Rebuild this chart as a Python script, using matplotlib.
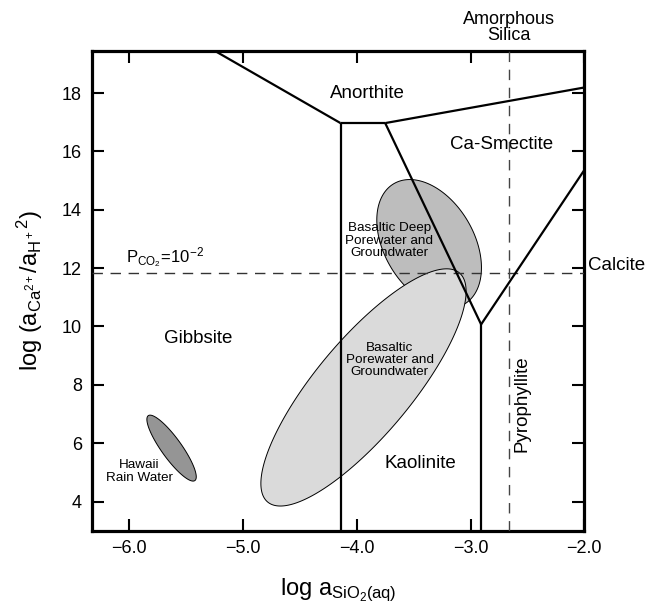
import numpy as np
import matplotlib
matplotlib.use("Agg")
import matplotlib.pyplot as plt

plt.rcParams["font.family"] = ["Liberation Sans", "DejaVu Sans"]
plt.rcParams["mathtext.fontset"] = "custom"
plt.rcParams["mathtext.rm"] = "Liberation Sans"
plt.rcParams["mathtext.it"] = "Liberation Sans:italic"

# phase boundaries (log aSiO2, log aCa/aH^2)
bnd_x = [[-5.25, -4.143], [-4.143, -3.75], [-3.75, -2.0], [-4.143, -4.143],
         [-3.75, -2.907], [-2.907, -2.907], [-2.907, -2.0]]
bnd_y = [[19.45, 16.97], [16.97, 16.97], [16.97, 18.19], [16.97, 3.0],
         [16.97, 10.07], [10.07, 3.0], [10.07, 15.36]]

silica_x = -2.665     # amorphous silica saturation
calcite_y = 11.82     # calcite saturation at PCO2 = 1e-2

# water fields: centre, half extent in x and y, correlation (tilt)
ell_names = ["Basaltic Deep\nPorewater and\nGroundwater",
             "Basaltic\nPorewater and\nGroundwater",
             "Hawaii\nRain Water"]
ell_cx = [-3.364, -3.941, -5.628]
ell_cy = [12.83, 7.91, 5.83]
ell_hx = [0.46, 0.902, 0.217]
ell_hy = [2.205, 4.065, 1.13]
ell_r = [-0.37, 0.81, -0.87]
ell_col = ["#bdbdbd", "#dadada", "#959595"]
lab_x = [-3.715, -3.71, -5.91]
lab_y = [12.94, 8.85, 5.03]

regions = ["Anorthite", "Ca-Smectite", "Gibbsite", "Kaolinite"]
reg_x = [-3.906, -2.725, -5.39, -3.44]
reg_y = [18.0, 16.23, 9.6, 5.31]

xticks = [-6.0, -5.0, -4.0, -3.0, -2.0]
xtick_labels = ["\u22126.0", "\u22125.0", "\u22124.0", "\u22123.0", "\u22122.0"]
yticks = [4, 6, 8, 10, 12, 14, 16, 18]

fig = plt.figure(figsize=(6.56, 6.09), dpi=100)
ax = fig.add_axes([0.1398, 0.1286, 0.7509, 0.7881])
ax.set_xlim(-6.33, -2.0)
ax.set_ylim(3.0, 19.45)

t = np.linspace(0, 2 * np.pi, 300)
for i in range(len(ell_cx)):
    ex = ell_cx[i] + ell_hx[i] * np.cos(t)
    ey = ell_cy[i] + ell_hy[i] * (ell_r[i] * np.cos(t) + np.sqrt(1 - ell_r[i] ** 2) * np.sin(t))
    ax.fill(ex, ey, facecolor=ell_col[i], edgecolor="black", lw=0.7, zorder=1 + i)
    ax.text(lab_x[i], lab_y[i], ell_names[i], ha="center", va="center",
            fontsize=9.7, linespacing=1.05, zorder=5)

ax.axhline(calcite_y, color="#333333", lw=1.0, dashes=(7.5, 5.5), zorder=6)
ax.axvline(silica_x, color="#444444", lw=1.0, dashes=(7.5, 5.5), zorder=6)

for xs, ys in zip(bnd_x, bnd_y):
    ax.plot(xs, ys, color="black", lw=1.6, zorder=7, solid_capstyle="butt")

for name, x, y in zip(regions, reg_x, reg_y):
    ax.text(x, y, name, ha="center", va="center", fontsize=13.5)
ax.text(-2.55, 7.36, "Pyrophyllite", rotation=90, ha="center", va="center", fontsize=13.5)
ax.text(-1.97, 12.1, "Calcite", ha="left", va="center", fontsize=13.5, clip_on=False)
ax.text(silica_x, 20.25, "Amorphous\nSilica", ha="center", va="center", fontsize=13,
        linespacing=0.95, clip_on=False)
ax.text(-6.03, 12.18, r"$\mathregular{P_{CO_2}\!=\!10^{-2}}$", ha="left", va="baseline",
        fontsize=12)

ax.set_xticks(xticks)
ax.set_xticklabels(xtick_labels)
ax.set_yticks(yticks)
ax.tick_params(direction="in", length=8.5, width=1.5, labelsize=13, pad=7,
               top=True, right=True)
for sp in ax.spines.values():
    sp.set_linewidth(2.3)

ax.set_xlabel(r"$\mathregular{log\ a_{SiO_2(aq)}}$", fontsize=17, labelpad=14)
ax.set_ylabel(r"$\mathregular{log\ (a_{Ca^{2+}}/a_{H^+}{}^{2})}$", fontsize=17, labelpad=12)

fig.savefig("out.png", dpi=100)
